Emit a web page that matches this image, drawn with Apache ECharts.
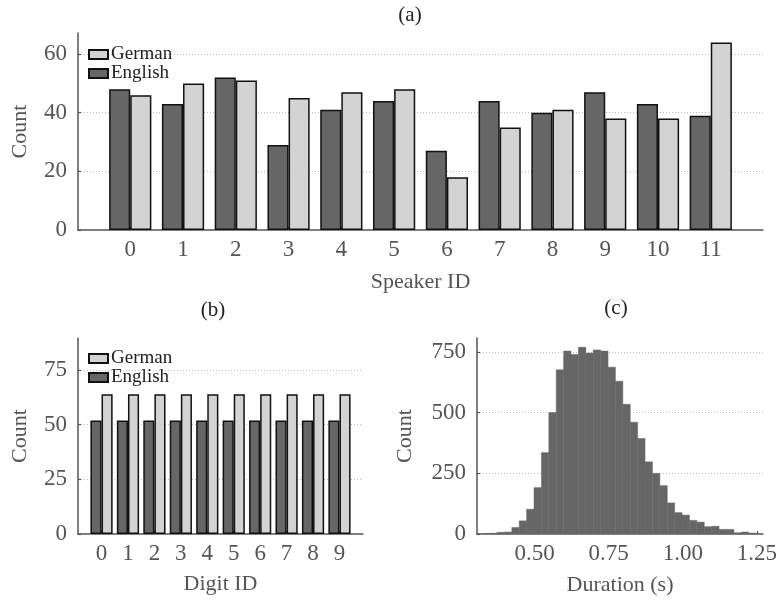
<!DOCTYPE html>
<html>
<head>
<meta charset="utf-8">
<script src="https://cdn.jsdelivr.net/npm/echarts@6/dist/echarts.min.js"></script>
<style>
  html, body { margin: 0; padding: 0; background: #fff; }
  #chart { width: 783px; height: 600px; }
</style>
</head>
<body>
<div id="chart"></div>
<script>
'use strict';

// (a) counts per speaker
var speakers = [0, 1, 2, 3, 4, 5, 6, 7, 8, 9, 10, 11];
var speakerEnglish = [48, 43, 52, 29, 41, 44, 27, 44, 40, 47, 43, 39];
var speakerGerman  = [46, 50, 51, 45, 47, 48, 18, 35, 41, 38, 38, 64];

// (b) counts per digit
var digits = [0, 1, 2, 3, 4, 5, 6, 7, 8, 9];
var digitEnglish = [52, 52, 52, 52, 52, 52, 52, 52, 52, 52];
var digitGerman  = [64, 64, 64, 64, 64, 64, 64, 64, 64, 64];

// (c) duration histogram
var durationBinStart = 0.3226;
var durationBinWidth = 0.025;
var durationCounts = [2, 3, 7, 8, 27, 54, 102, 191, 335, 500, 676, 753, 739, 769,
  745, 758, 753, 687, 629, 534, 460, 393, 297, 250, 199, 128, 88, 78, 56, 49,
  30, 32, 19, 19, 5, 8, 4];
var durationTicks = [0.5, 0.75, 1.0, 1.25];

var FONT = 'Liberation Serif';
var DARK = '#666666';
var LIGHT = '#d3d3d3';
var AXIS = '#555555';
var TEXT = '#555555';

function pairs(xs, ys) {
  var out = [];
  for (var i = 0; i < xs.length; i++) out.push([xs[i], ys[i]]);
  return out;
}

// each bin: [left edge, right edge, count]
var histData = [];
for (var i = 0; i < durationCounts.length; i++) {
  var lo = durationBinStart + durationBinWidth * i;
  histData.push([lo, lo + durationBinWidth, durationCounts[i]]);
}

function renderBin(params, api) {
  var p0 = api.coord([api.value(0), api.value(2)]);
  var p1 = api.coord([api.value(1), 0]);
  return {
    type: 'rect',
    shape: { x: p0[0], y: p0[1], width: p1[0] - p0[0], height: p1[1] - p0[1] },
    style: { fill: DARK, stroke: DARK, lineWidth: 0.5 }
  };
}

function xAxisFor(gridIndex, min, max, ticks, name, nameGap, fmt) {
  return {
    type: 'value', gridIndex: gridIndex, min: min, max: max,
    name: name, nameLocation: 'middle', nameGap: nameGap,
    nameTextStyle: { fontSize: 22, color: TEXT, fontFamily: FONT },
    axisLine: { show: true, onZero: false, lineStyle: { color: AXIS, width: 1.5 } },
    axisTick: { show: true, inside: true, length: 3, customValues: ticks,
      lineStyle: { color: AXIS, width: 1.2 } },
    axisLabel: { customValues: ticks, margin: 8, fontSize: 23, color: TEXT,
      fontFamily: FONT, formatter: fmt },
    splitLine: { show: false }
  };
}

function yAxisFor(gridIndex, max, interval, nameGap) {
  return {
    type: 'value', gridIndex: gridIndex, min: 0, max: max, interval: interval,
    name: 'Count', nameLocation: 'middle', nameGap: nameGap,
    nameTextStyle: { fontSize: 22, color: TEXT, fontFamily: FONT },
    axisLine: { show: true, onZero: false, lineStyle: { color: AXIS, width: 1.5 } },
    axisTick: { show: true, inside: true, length: 3, lineStyle: { color: AXIS, width: 1.2 } },
    axisLabel: { margin: 11, fontSize: 23, color: TEXT, fontFamily: FONT,
      showMaxLabel: false },
    splitLine: { show: true, showMinLine: false, showMaxLine: false,
      lineStyle: { color: '#bbbbbb', type: [1, 2], width: 1 } }
  };
}

function legendFor(top) {
  return {
    data: ['German', 'English'], orient: 'vertical', left: 88, top: top,
    padding: 0, icon: 'rect', itemWidth: 19, itemHeight: 9, itemGap: 0,
    selectedMode: false,
    textStyle: { fontSize: 19, color: '#222', fontFamily: FONT, lineHeight: 18,
      padding: [0, 0, 0, -2] }
  };
}

function barSeries(name, color, xi, data, catGap) {
  return {
    name: name, type: 'bar', xAxisIndex: xi, yAxisIndex: xi, data: data,
    barGap: '0%', barCategoryGap: catGap,
    itemStyle: { color: color, borderColor: '#111', borderWidth: 1.5 },
    emphasis: { disabled: true }
  };
}

var chart = echarts.init(document.getElementById('chart'), null, { renderer: 'canvas' });
chart.setOption({
  animation: false,
  backgroundColor: '#fff',
  textStyle: { fontFamily: FONT },
  title: [
    { text: '(a)', left: 410, top: 5, textAlign: 'center', padding: 0,
      textStyle: { fontSize: 21, fontWeight: 'normal', color: '#222', fontFamily: FONT } },
    { text: '(b)', left: 213, top: 300, textAlign: 'center', padding: 0,
      textStyle: { fontSize: 21, fontWeight: 'normal', color: '#222', fontFamily: FONT } },
    { text: '(c)', left: 616, top: 298, textAlign: 'center', padding: 0,
      textStyle: { fontSize: 21, fontWeight: 'normal', color: '#222', fontFamily: FONT } }
  ],
  legend: [legendFor(45), legendFor(349)],
  grid: [
    { left: 78, top: 33, width: 685, height: 197 },
    { left: 78, top: 338, width: 285, height: 196 },
    { left: 477, top: 338, width: 286, height: 196 }
  ],
  xAxis: [
    xAxisFor(0, -0.99, 11.99, speakers, 'Speaker ID', 41),
    xAxisFor(1, -0.89, 9.89, digits, 'Digit ID', 39),
    xAxisFor(2, 0.305, 1.271, durationTicks, 'Duration (s)', 40,
      function (v) { return v.toFixed(2); })
  ],
  yAxis: [
    yAxisFor(0, 67.2, 20, 47),
    yAxisFor(1, 89.7, 25, 47),
    yAxisFor(2, 807, 250, 61)
  ],
  series: [
    barSeries('English', DARK, 0, pairs(speakers, speakerEnglish), '20%'),
    barSeries('German', LIGHT, 0, pairs(speakers, speakerGerman), '20%'),
    barSeries('English', DARK, 1, pairs(digits, digitEnglish), '16%'),
    barSeries('German', LIGHT, 1, pairs(digits, digitGerman), '16%'),
    {
      name: 'Duration', type: 'custom', xAxisIndex: 2, yAxisIndex: 2,
      data: histData, renderItem: renderBin, encode: { x: [0, 1], y: 2 },
      clip: true, z: 1
    }
  ]
});
</script>
</body>
</html>
